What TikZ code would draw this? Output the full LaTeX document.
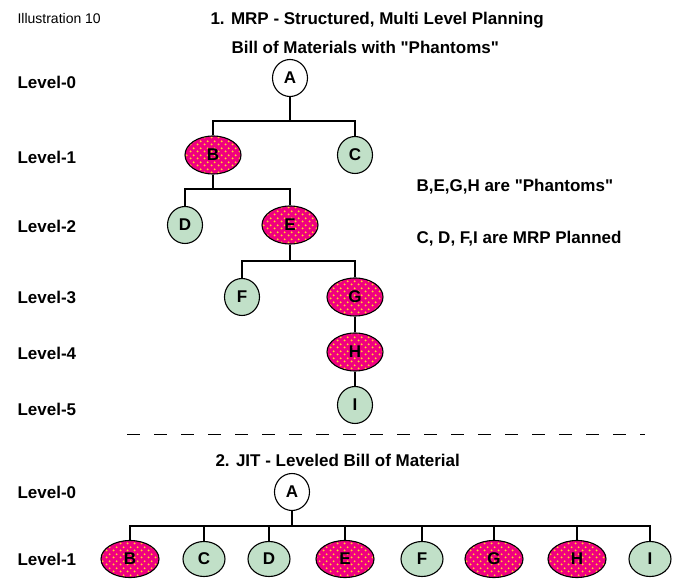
\documentclass[tikz,border=0pt]{standalone}
\usepackage{fontspec}
\setmainfont{Liberation Sans}
\usetikzlibrary{shapes.geometric,patterns.meta}

\definecolor{phantompink}{RGB}{240,0,128}
\definecolor{dotyellow}{RGB}{255,214,40}
\definecolor{plangreen}{RGB}{193,224,200}

% yellow dots on the phantom parts
\tikzdeclarepattern{
  name=phdots,
  type=uncolored,
  bottom left={(0pt,0pt)},
  top right={(7pt,7pt)},
  tile size={(7pt,7pt)},
  code={
    \fill (1.75pt,1.75pt) circle (1.15pt);
    \fill (5.25pt,5.25pt) circle (1.15pt);
  }
}

\begin{document}
\begin{tikzpicture}[x=1pt,y=-1pt,
    lvl/.style={anchor=west, font=\bfseries\fontsize{17}{20}\selectfont},
    head/.style={anchor=west, font=\bfseries\fontsize{17}{20}\selectfont},
    bomnode/.style={ellipse, draw=black, line width=1.1pt, inner sep=0pt,
      font=\bfseries\fontsize{17}{19}\selectfont},
    phantom/.style={bomnode, minimum width=56pt, minimum height=38pt,
      preaction={fill=phantompink}, pattern={phdots}, pattern color=dotyellow},
    planned/.style={bomnode, fill=plangreen, minimum width=35pt, minimum height=37pt},
    topnode/.style={bomnode, fill=white, minimum width=35pt, minimum height=37pt},
    link/.style={line width=1.8pt}]
    \useasboundingbox (0,0) rectangle (673,580);

    % Headings
    \node[anchor=west, font=\fontsize{14}{16}\selectfont] (ill) at (14,18) {Illustration 10};
    \node[head] (t1) at (207,20) {1. MRP - Structured, Multi Level Planning};
    \node[head] (t2) at (228,47) {Bill of Materials with \textquotedbl Phantoms\textquotedbl};

    % Levels
    \foreach \lv/\yy in {0/82,1/157,2/226,3/297,4/353,5/409}
        \node[lvl] (lv\lv) at (14,\yy) {Level-\lv};

    % MRP tree
    \node[topnode] (A) at (290,78) {A};
    \node[phantom] (B) at (213,155) {B};
    \node[planned] (C) at (355,155) {C};
    \node[planned] (D) at (185,225) {D};
    \node[phantom] (E) at (290,225) {E};
    \node[planned] (F) at (242,297) {F};
    \node[phantom] (G) at (355,297) {G};
    \node[phantom] (H) at (355,352) {H};
    \node[planned] (I) at (355,405) {I};

    \coordinate (ab) at (290,121);
    \coordinate (bb) at (213,189);
    \coordinate (eb) at (290,261);
    \draw[link] (A.south) -- (ab);
    \draw[link] (B.north) |- (ab) -| (C.north);
    \draw[link] (B.south) -- (bb);
    \draw[link] (D.north) |- (bb) -| (E.north);
    \draw[link] (E.south) -- (eb);
    \draw[link] (F.north) |- (eb) -| (G.north);
    \draw[link] (G) -- (H);
    \draw[link] (H) -- (I);

    % Notes
    \node[head] (note1) at (413,187) {B,E,G,H are \textquotedbl Phantoms\textquotedbl};
    \node[head] (note2) at (413,239) {C, D, F,I are MRP Planned};

    % Divider
    \coordinate (dl) at (127,435);
    \coordinate (dr) at (645,435);
    \draw[line width=1pt, dash pattern=on 13pt off 14pt] (dl) -- (dr);

    % JIT
    \node[head] (t3) at (212,460) {2. JIT - Leveled Bill of Material};
    \node[lvl] (jlv0) at (14,492) {Level-0};
    \node[lvl] (jlv1) at (14,559) {Level-1};

    \node[topnode] (jA) at (292,492) {A};
    \foreach \n/\xx/\st/\nw/\nh in {B/130/phantom/58/37, C/204/planned/42/35,
        D/269/planned/42/35, E/345/phantom/58/37, F/422/planned/42/35,
        G/494/phantom/58/37, H/577/phantom/58/37, I/650/planned/42/35}
        \node[\st, minimum width=\nw pt, minimum height=\nh pt] (j\n) at (\xx,559) {\n};

    \coordinate (jb) at (292,526);
    \draw[link] (jA.south) -- (jb);
    \draw[link] (jB.north) |- (jb) -| (jI.north);
    \foreach \n in {C,D,E,F,G,H}
        \draw[link] (j\n.north) -- (j\n.north |- jb);
\end{tikzpicture}
\end{document}
